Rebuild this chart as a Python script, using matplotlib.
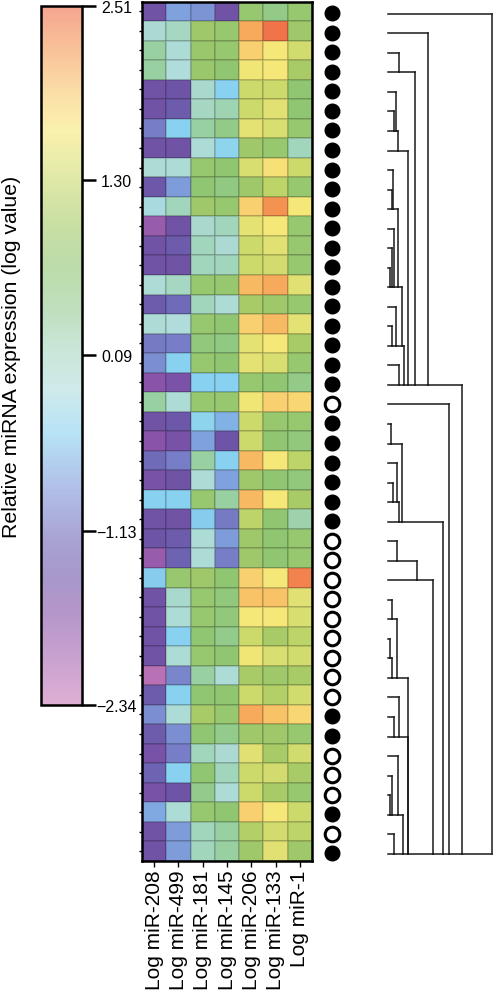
import numpy as np
import matplotlib
matplotlib.use('Agg')
import matplotlib.pyplot as plt
from matplotlib.colors import LinearSegmentedColormap, Normalize
from matplotlib.cm import ScalarMappable

plt.rcParams['font.family'] = ['Liberation Sans', 'DejaVu Sans']

# columns of the heatmap
mirnas = ['Log miR-208', 'Log miR-499', 'Log miR-181', 'Log miR-145',
          'Log miR-206', 'Log miR-133', 'Log miR-1']

# log expression per sample (rows top -> bottom)
expr = [
    [-1.50, -0.75, -0.85, -1.50, 0.80, 0.50, 0.80],
    [-0.05, 0.10, 0.90, 0.80, 2.10, 2.45, 0.90],
    [0.30, -0.10, 0.85, 0.80, 1.85, 1.65, 1.35],
    [0.30, -0.15, 0.85, 0.70, 1.60, 1.65, 1.00],
    [-1.50, -1.45, 0.00, -0.45, 1.30, 1.30, 0.70],
    [-1.50, -1.35, 0.10, 0.20, 1.30, 1.45, 0.70],
    [-1.00, -0.45, 0.30, 0.50, 1.50, 1.40, 0.80],
    [-1.50, -1.50, -0.10, -0.40, 0.90, 0.80, 0.15],
    [-0.10, -0.10, 0.80, 0.70, 1.40, 1.70, 1.30],
    [-1.40, -0.80, 0.70, 0.55, 0.90, 1.20, 0.80],
    [-0.20, 0.15, 0.90, 0.80, 1.85, 2.25, 1.65],
    [-1.90, -1.50, 0.00, 0.15, 1.50, 1.65, 0.80],
    [-1.50, -1.35, 0.15, -0.05, 1.30, 1.45, 0.80],
    [-1.50, -1.50, 0.15, 0.15, 1.30, 1.35, 0.80],
    [-0.10, 0.10, 0.80, 0.80, 2.00, 2.10, 1.45],
    [-1.35, -1.15, 0.15, -0.10, 1.00, 0.90, 0.80],
    [-0.10, -0.15, 0.80, 0.70, 1.85, 2.00, 1.50],
    [-1.05, -1.00, 0.60, 0.55, 1.50, 1.65, 1.00],
    [-0.90, -0.45, 0.80, 0.70, 1.50, 1.40, 0.80],
    [-1.75, -1.60, -0.45, -0.45, 0.80, 0.70, 0.50],
    [0.30, -0.10, 0.80, 0.80, 1.60, 1.85, 1.80],
    [-1.50, -1.40, -0.40, -0.65, 1.30, 0.80, 0.80],
    [-1.75, -1.55, -0.75, -1.45, 1.30, 0.70, 0.60],
    [-1.15, -1.00, 0.30, -0.45, 2.00, 1.65, 1.20],
    [-1.55, -1.50, -0.10, -0.75, 0.90, 0.70, 0.60],
    [-0.45, -0.45, 0.80, 0.30, 2.00, 1.65, 1.00],
    [-1.50, -1.50, -0.50, -1.05, 1.20, 0.70, 0.25],
    [-1.45, -1.35, -0.10, -0.80, 0.90, 0.70, 0.80],
    [-1.90, -1.25, -0.10, -1.00, 0.90, 0.70, 0.80],
    [-0.50, 0.80, 0.90, 0.70, 1.85, 1.65, 2.35],
    [-1.50, 0.00, 0.80, 0.60, 1.95, 1.95, 1.45],
    [-1.50, -0.10, 0.80, 0.60, 1.65, 1.65, 1.40],
    [-1.50, -0.45, 0.70, 0.45, 1.30, 1.00, 1.20],
    [-1.50, -0.10, 0.80, 0.70, 1.60, 1.40, 1.35],
    [-2.20, -0.95, 0.30, -0.10, 1.00, 0.90, 1.00],
    [-1.35, -0.45, 0.70, 0.70, 1.30, 1.10, 1.35],
    [-0.90, -0.10, 1.00, 0.80, 2.10, 1.95, 1.80],
    [-1.35, -0.90, 0.70, 0.45, 0.90, 0.90, 0.80],
    [-1.55, -1.00, 0.15, -0.05, 1.45, 1.00, 1.35],
    [-1.25, -0.45, 0.70, 0.15, 1.30, 1.35, 1.00],
    [-1.55, -1.45, 0.45, -0.10, 1.30, 1.00, 0.80],
    [-0.70, -0.10, 0.80, 0.70, 1.85, 1.65, 1.30],
    [-1.50, -0.80, 0.15, 0.30, 1.10, 1.35, 1.20],
    [-1.50, -0.80, 0.15, 0.30, 0.90, 1.45, 0.90],
]

# sample group marker: 1 = filled circle, 0 = open circle
filled = [1] * 20 + [0] + [1] * 6 + [0] * 9 + [1, 1] + [0, 0, 0] + [1, 0, 1]

# dendrogram merges (cluster a, cluster b, height); new clusters get id 44, 45, ...
merges = [
    (13, 14, 2.0), (12, 44, 4.3), (11, 45, 6.0), (9, 10, 3.7), (8, 47, 5.3),
    (48, 46, 9.7), (16, 17, 4.3), (15, 50, 7.7), (49, 51, 13.7), (18, 19, 11.0),
    (52, 53, 16.3), (5, 6, 6.3), (4, 55, 8.3), (56, 7, 10.3), (57, 54, 20.3),
    (2, 3, 11.0), (59, 58, 27.0), (1, 60, 39.7),
    (21, 22, 2.7), (24, 25, 5.3), (23, 63, 8.7), (64, 26, 11.3), (62, 65, 14.3),
    (27, 28, 9.3), (67, 29, 28.7), (30, 31, 4.3), (32, 33, 2.0), (70, 34, 4.0),
    (69, 71, 8.7), (36, 37, 6.0), (35, 73, 11.0), (40, 41, 2.0), (39, 75, 4.3),
    (38, 76, 9.7), (42, 43, 6.3), (77, 78, 15.3), (74, 79, 19.5), (72, 80, 19.7),
    (68, 81, 45.3), (66, 82, 55.3), (20, 83, 61.0), (61, 84, 74.0), (0, 85, 104.0),
]

cbar_ticks = [2.51, 1.30, 0.09, -1.13, -2.34]
cbar_labels = ['2.51', '1.30', '0.09', '\u22121.13', '\u22122.34']
vmin, vmax = -2.34, 2.51

# colour map stops
stops = [
    (-2.34, '#c87ab8'), (-2.0, '#a262b0'), (-1.7, '#8450a8'), (-1.45, '#6c54a6'),
    (-1.2, '#6e66b6'), (-0.95, '#7a86cc'), (-0.7, '#80aae2'), (-0.45, '#88d2f0'),
    (-0.15, '#b0dcdc'), (0.15, '#a2d6bc'), (0.4, '#94cc92'), (0.7, '#90c672'),
    (0.95, '#a2c868'), (1.2, '#bcd468'), (1.4, '#d8de70'), (1.65, '#f6e878'),
    (1.85, '#f8d270'), (2.05, '#f8b460'), (2.25, '#f49452'), (2.51, '#f06a48'),
]
cmap = LinearSegmentedColormap.from_list(
    'mirna', [((v - vmin) / (vmax - vmin), c) for v, c in stops])
norm = Normalize(vmin, vmax)

W, H = 495, 995
fig = plt.figure(figsize=(W / 100, H / 100), dpi=100)


def box(x0, x1, ytop, ybot):
    return [x0 / W, (H - ybot) / H, (x1 - x0) / W, (ybot - ytop) / H]


data = np.array(expr)
nrow, ncol = data.shape

# heatmap
ax = fig.add_axes(box(142, 312, 2.5, 862))
ax.pcolormesh(np.arange(ncol + 1), np.arange(nrow + 1), data, cmap=cmap, norm=norm,
              edgecolors=(0, 0, 0, 0.13), linewidth=1.3)
ax.set_xlim(0, ncol)
ax.set_ylim(nrow, 0)
ax.set_xticks(np.arange(ncol) + 0.5)
ax.set_xticklabels(mirnas, rotation=90, fontsize=15)
ax.set_yticks(np.arange(nrow) + 0.5)
ax.set_yticklabels([])
ax.tick_params(axis='x', length=4, width=1, pad=2)
ax.tick_params(axis='y', length=2.5, width=1)
for s in ax.spines.values():
    s.set_linewidth(1.8)

# sample group circles
axc = fig.add_axes(box(320, 343, 4.5, 864))
axc.set_xlim(0, 1)
axc.set_ylim(nrow, 0)
for i, f in enumerate(filled):
    axc.plot(0.5, i + 0.5, 'o', ms=10.5, mec='black',
             mfc='black' if f else 'white', mew=2.2 if not f else 1)
axc.axis('off')

# dendrogram
axd = fig.add_axes(box(388, 492, 5, 864.5))
axd.set_xlim(0, 104)
axd.set_ylim(nrow, 0)
pos = {i: i + 0.5 for i in range(nrow)}
hgt = {i: 0.0 for i in range(nrow)}
lk = dict(color='#1a1a1a', lw=1.1, solid_capstyle='projecting', clip_on=False)
for k, (a, b, h) in enumerate(merges):
    ya, yb = pos[a], pos[b]
    axd.plot([hgt[a], h], [ya, ya], **lk)
    axd.plot([hgt[b], h], [yb, yb], **lk)
    axd.plot([h, h], [ya, yb], **lk)
    pos[nrow + k] = max(ya, yb)
    hgt[nrow + k] = h
axd.axis('off')

# colour bar
cax = fig.add_axes(box(41, 82, 7, 706))
cb = fig.colorbar(ScalarMappable(norm=norm, cmap=cmap), cax=cax)
cb.solids.set_alpha(0.6)
cb.set_ticks(cbar_ticks)
cb.set_ticklabels(cbar_labels)
cax.tick_params(length=10, width=1.8, labelsize=11.5, pad=15)
for t in cax.get_yticklabels():
    t.set_ha('center')
cb.outline.set_linewidth(1.8)
fig.text(12 / W, (H - 357) / H, 'Relative miRNA expression (log value)',
         rotation=90, ha='center', va='center', fontsize=15.3)

fig.savefig('out.png', dpi=100)
